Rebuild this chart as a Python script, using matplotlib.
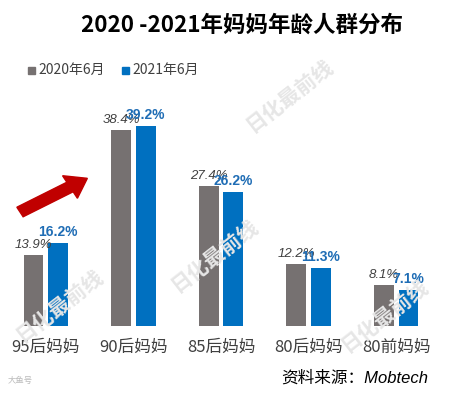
import matplotlib
matplotlib.use("Agg")
import matplotlib.pyplot as plt
from matplotlib.patches import FancyArrow, Rectangle

plt.rcParams['font.family'] = ['Noto Sans CJK SC', 'DejaVu Sans']

categories = ["95后妈妈", "90后妈妈", "85后妈妈", "80后妈妈", "80前妈妈"]
series_names = ["2020年6月", "2021年6月"]
values_2020 = [13.9, 38.4, 27.4, 12.2, 8.1]
values_2021 = [16.2, 39.2, 26.2, 11.3, 7.1]

GRAY = "#767171"
BLUE = "#0070C0"

W, H = 451, 393
fig = plt.figure(figsize=(W / 100, H / 100), dpi=100)
ax = fig.add_axes([2 / W, 1 - 326 / H, 438 / W, (326 - 100) / H])

x = list(range(len(categories)))
off, bw = 0.14, 0.225
ax.bar([i - off for i in x], values_2020, width=bw, color=GRAY, zorder=2)
ax.bar([i + off for i in x], values_2021, width=bw, color=BLUE, zorder=2)

for i, (a, b) in enumerate(zip(values_2020, values_2021)):
    ax.annotate(f"{a}%", (i - off, a), xytext=(0, 3), textcoords="offset points",
                ha="center", va="bottom", fontsize=9.5, style="italic",
                color="#404040", family=["Liberation Sans", "DejaVu Sans"], zorder=3)
    ax.annotate(f"{b}%", (i + off, b), xytext=(0, 3), textcoords="offset points",
                ha="center", va="bottom", fontsize=10, fontweight="bold",
                color="#1F6DB5", family=["Liberation Sans", "DejaVu Sans"], zorder=4)

ax.set_xlim(-0.5, len(categories) - 0.5)
ax.set_ylim(0, (326 - 100) / 5.1)
ax.set_xticks(x)
ax.set_xticklabels(categories, fontsize=12, color="#404040")
ax.tick_params(axis="x", length=0, pad=9)
ax.set_yticks([])
for s in ax.spines.values():
    s.set_visible(False)

# title
fig.text(242 / W, 1 - 25 / H, "2020 -2021年妈妈年龄人群分布", ha="center", va="center",
         fontsize=16.2, fontweight="bold", color="black")

# legend (manual)
for px, name, col in [(28, series_names[0], GRAY), (122, series_names[1], BLUE)]:
    fig.patches.append(Rectangle((px / W, 1 - 74 / H), 7 / W, 7 / H, color=col,
                                 transform=fig.transFigure, figure=fig))
    fig.text((px + 10) / W, 1 - 70 / H, name, ha="left", va="center",
             fontsize=10, color="#404040")

# red arrow
arr = FancyArrow(20 / W, 1 - 212 / H, 50 / W, 25 / H, width=11 / H,
                 head_width=26 / H, head_length=20 / W, length_includes_head=False,
                 color="#C00000", transform=fig.transFigure, figure=fig)
fig.patches.append(arr)

# source
fig.text(428 / W, 1 - 378 / H, "资料来源：Mobtech", ha="right", va="center",
         fontsize=12, style="italic", color="black",
         family=["Liberation Sans", "Noto Sans CJK SC"])

# faint watermarks
for (wx, wy) in [(290, 95), (215, 255), (60, 305), (385, 315)]:
    fig.text(wx / W, 1 - wy / H, "日化最前线", ha="center", va="center", rotation=38,
             fontsize=15, fontweight="bold", color="#e6e6e6", zorder=0)
fig.text(8 / W, 1 - 380 / H, "大鱼号", ha="left", va="center", fontsize=6,
         color="#bbbbbb")

fig.savefig("out.png", dpi=100)
